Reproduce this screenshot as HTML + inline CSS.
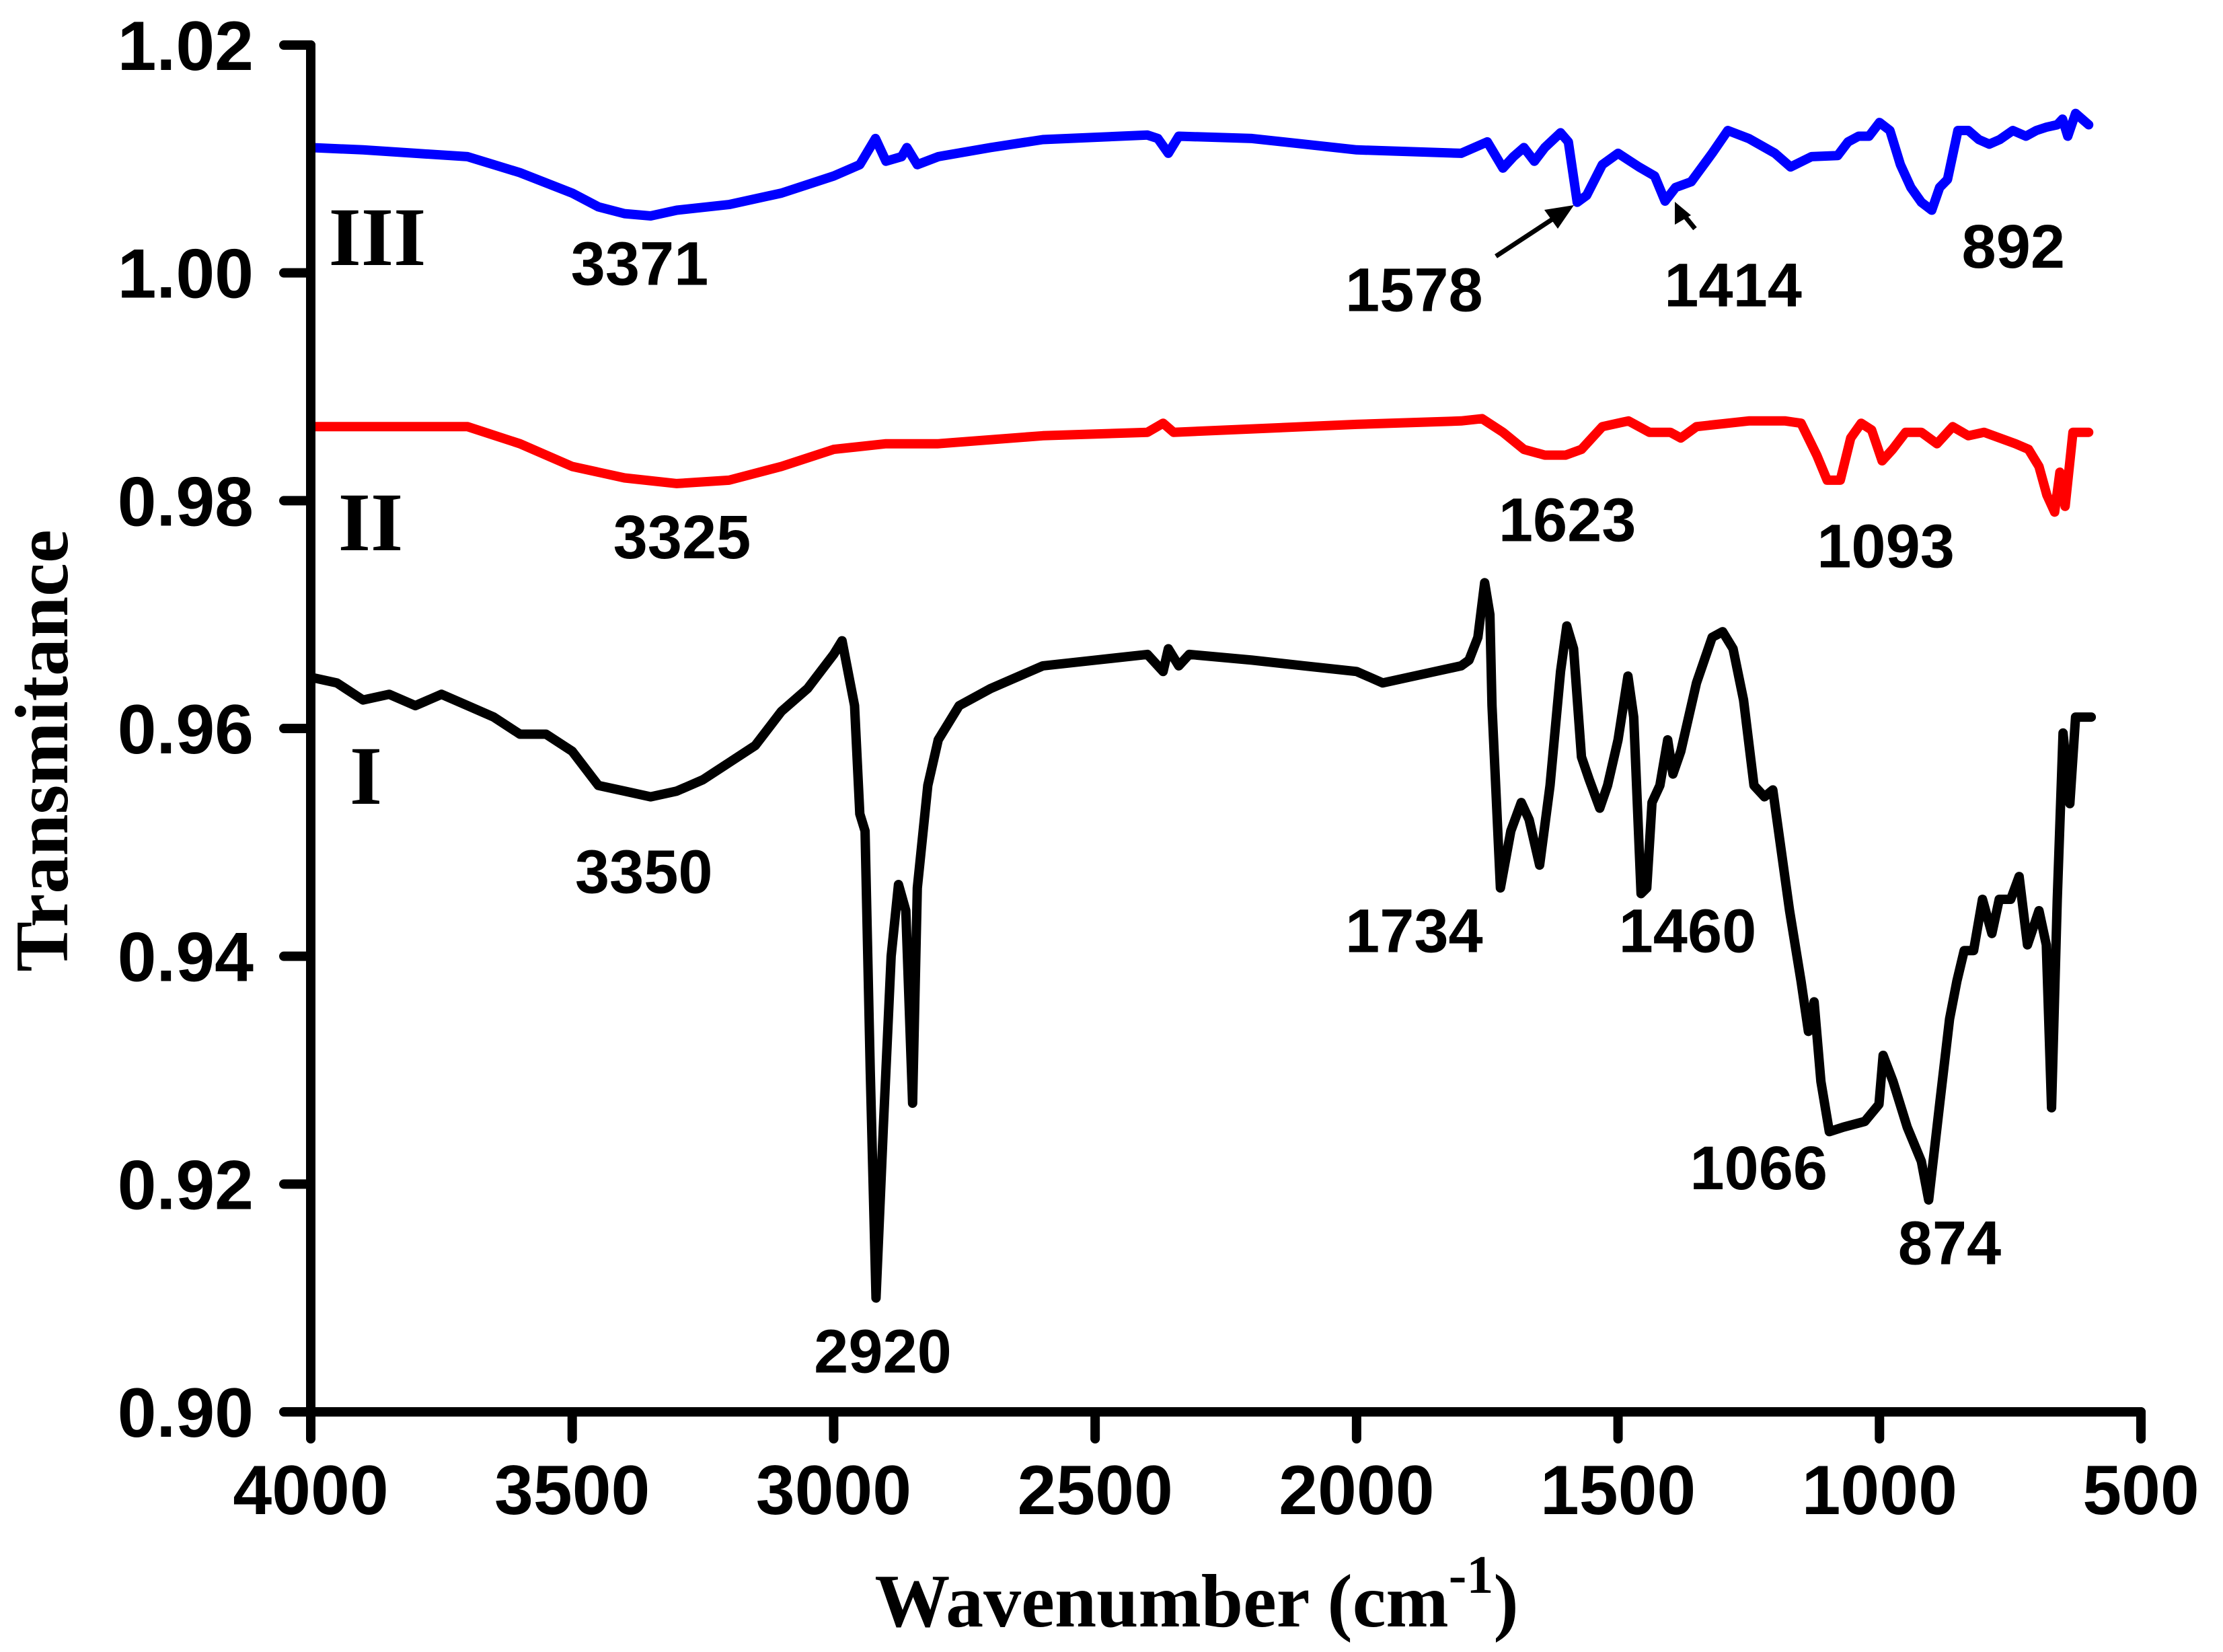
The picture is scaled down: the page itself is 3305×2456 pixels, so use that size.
<!DOCTYPE html>
<html><head><meta charset="utf-8"><style>
html,body{margin:0;padding:0;background:#fff;}
svg{display:block;}
.tk{font-family:"Liberation Sans",Arial,sans-serif;font-weight:bold;font-size:104px;fill:#000;}
.pk{font-family:"Liberation Sans",Arial,sans-serif;font-weight:bold;font-size:92px;fill:#000;}
.rm{font-family:"Liberation Serif",serif;font-weight:bold;font-size:124px;fill:#000;}
.tt{font-family:"Liberation Serif",serif;font-weight:bold;font-size:112px;fill:#000;}
</style></head><body>
<svg id="chart" width="3305" height="2456" viewBox="0 0 3305 2456" xmlns="http://www.w3.org/2000/svg">
<g id="marks"></g>
<g id="axes"></g>
<text class="tt" transform="translate(100,1116) rotate(-90)" text-anchor="middle">Transmitance</text>
<text class="tt" x="1779" y="2418" text-anchor="middle">Wavenumber (cm<tspan font-size="80" dy="-50">-1</tspan><tspan dy="50">)</tspan></text>
<text class="rm" x="561" y="394" text-anchor="middle">III</text>
<text class="rm" x="551" y="818" text-anchor="middle">II</text>
<text class="rm" x="544" y="1195" text-anchor="middle">I</text>
<g stroke="#000" stroke-width="7" fill="#000">
<line x1="2224" y1="381" x2="2320" y2="318"/><polygon points="2340,305 2296,312 2316,340" stroke="none"/></g>
<g stroke="#000" stroke-width="7" fill="#000">
<line x1="2520" y1="340" x2="2502" y2="318"/><polygon points="2490,300 2490,334 2514,320" stroke="none"/></g>
</svg>
<script>
const xTicks=[4000,3500,3000,2500,2000,1500,1000,500];
const yTicks=[0.90,0.92,0.94,0.96,0.98,1.00,1.02];
const wnI=[4000,3950,3900,3850,3800,3750,3700,3650,3600,3550,3500,3450,3400,3350,3300,3250,3200,3150,3100,3050,3000,2984,2960,2950,2940,2930,2919,2905,2890,2876,2862,2849,2840,2820,2800,2760,2700,2650,2600,2500,2400,2370,2360,2340,2320,2200,2100,2000,1950,1900,1800,1785,1768,1755,1745,1741,1725,1705,1685,1670,1650,1630,1610,1598,1585,1570,1555,1535,1520,1500,1481,1470,1456,1445,1435,1420,1405,1395,1380,1350,1320,1300,1280,1260,1240,1220,1204,1172,1150,1136,1125,1112,1096,1069,1028,1001,993,974,947,920,906,885,866,852,838,820,803,785,771,749,733,717,695,681,671,660,649,636,625,595];
const tI=[0.9645,0.964,0.9625,0.963,0.962,0.963,0.962,0.961,0.9595,0.9595,0.958,0.955,0.9545,0.954,0.9545,0.9555,0.957,0.9585,0.9615,0.9635,0.9665,0.9677,0.962,0.9525,0.951,0.93,0.910,0.925,0.94,0.9463,0.944,0.9271,0.946,0.955,0.959,0.962,0.9635,0.9645,0.9655,0.966,0.9665,0.965,0.967,0.9655,0.9665,0.966,0.9655,0.965,0.964,0.9645,0.9655,0.966,0.968,0.9728,0.970,0.962,0.946,0.951,0.9535,0.952,0.948,0.955,0.965,0.969,0.967,0.9575,0.9555,0.953,0.955,0.959,0.9646,0.961,0.9455,0.946,0.9535,0.955,0.959,0.956,0.958,0.964,0.968,0.9685,0.967,0.9625,0.955,0.954,0.9546,0.944,0.9378,0.9334,0.936,0.929,0.9246,0.925,0.9255,0.927,0.9313,0.929,0.925,0.922,0.9186,0.927,0.9345,0.9378,0.9405,0.9405,0.945,0.942,0.945,0.945,0.947,0.941,0.944,0.941,0.9267,0.945,0.9596,0.9534,0.961,0.961];
const wnII=[4000,3800,3700,3600,3500,3400,3300,3200,3100,3000,2900,2800,2600,2400,2370,2350,2000,1800,1760,1720,1680,1640,1600,1570,1530,1480,1440,1400,1380,1350,1250,1180,1150,1120,1100,1075,1055,1035,1015,995,975,950,920,890,860,830,800,770,740,715,695,680,665,655,645,630,600];
const tII=[0.9865,0.9865,0.9865,0.985,0.983,0.982,0.9815,0.9818,0.983,0.9845,0.985,0.985,0.9857,0.986,0.9868,0.986,0.9867,0.987,0.9872,0.986,0.9845,0.984,0.984,0.9845,0.9865,0.987,0.986,0.986,0.9855,0.9865,0.987,0.987,0.9868,0.984,0.9818,0.9818,0.9855,0.9868,0.9862,0.9835,0.9845,0.986,0.986,0.985,0.9865,0.9857,0.986,0.9855,0.985,0.9845,0.983,0.9805,0.979,0.9825,0.9795,0.986,0.986];
const wnIII=[4000,3900,3800,3700,3650,3600,3500,3450,3400,3350,3300,3200,3100,3000,2950,2920,2900,2870,2860,2840,2800,2700,2600,2400,2380,2360,2340,2200,2000,1800,1750,1720,1700,1680,1660,1640,1610,1595,1578,1560,1530,1500,1460,1430,1410,1390,1360,1320,1290,1250,1200,1170,1130,1080,1060,1040,1020,1000,980,960,940,920,900,885,870,850,830,810,790,770,745,720,700,680,660,650,640,625,600];
const tIII=[1.011,1.0108,1.0105,1.0102,1.0095,1.0088,1.007,1.0058,1.0052,1.005,1.0055,1.006,1.007,1.0085,1.0095,1.0118,1.0098,1.0102,1.011,1.0095,1.0102,1.011,1.0117,1.0121,1.0118,1.0105,1.012,1.0118,1.0108,1.0105,1.0115,1.0092,1.0102,1.011,1.0098,1.011,1.0123,1.0115,1.0062,1.0068,1.0095,1.0105,1.0093,1.0085,1.0063,1.0075,1.008,1.0105,1.0125,1.0118,1.0105,1.0093,1.0102,1.0103,1.0115,1.012,1.012,1.0132,1.0125,1.0095,1.0075,1.0062,1.0055,1.0075,1.0082,1.0125,1.0125,1.0117,1.0113,1.0117,1.0125,1.012,1.0125,1.0128,1.013,1.0135,1.012,1.014,1.013];
const peakText=["3371","1578","1414","892","3325","1623","1093","3350","2920","1734","1460","1066","874"];
const labelWn=[3371,1890,1280,744,3290,1597,988,3363,2906,1890,1367,1231,866];
const labelT=[1.0009,0.9986,0.999,1.0024,0.9769,0.9784,0.9761,0.9475,0.9054,0.9423,0.9423,0.9215,0.9149];

const X0=462,X1=3183,Y0=2099,Y1=67;
function sx(w){return X0+(4000-w)*(X1-X0)/3500;}
function sy(t){return Y0-(t-0.90)*(Y0-Y1)/0.12;}
const NS="http://www.w3.org/2000/svg";
const marks=document.getElementById('marks'),axes=document.getElementById('axes'),svg=document.getElementById('chart');
function mk(tag,attrs,parent){const e=document.createElementNS(NS,tag);for(const k in attrs)e.setAttribute(k,attrs[k]);parent.appendChild(e);return e;}
function series(wn,t,color,name){
  let d=wn.map((w,i)=>(i?'L':'M')+sx(w).toFixed(1)+','+sy(t[i]).toFixed(1)).join(' ');
  const p=mk('path',{d:d,fill:'none',stroke:color,'stroke-width':14,'stroke-linejoin':'round','stroke-linecap':'round'},marks);
  
  
}
series(wnI,tI,'#000','series-i');
series(wnII,tII,'#ff0000','series-ii');
series(wnIII,tIII,'#0000ff','series-iii');
const ax=mk('path',{d:`M${X0},${Y1} L${X0},${Y0} L${X1},${Y0}`,fill:'none',stroke:'#000','stroke-width':14,'stroke-linecap':'round'},axes);


xTicks.forEach(v=>{
  const l=mk('line',{x1:sx(v),x2:sx(v),y1:Y0,y2:Y0+40,stroke:'#000','stroke-width':14,'stroke-linecap':'round'},axes);
  
  
  const tx=mk('text',{x:sx(v),y:Y0+152,'text-anchor':'middle',class:'tk'},axes);tx.textContent=v;
  
  
});
yTicks.forEach(v=>{
  const l=mk('line',{x1:X0-40,x2:X0,y1:sy(v),y2:sy(v),stroke:'#000','stroke-width':14,'stroke-linecap':'round'},axes);
  
  
  const tx=mk('text',{x:377,y:sy(v)+37,'text-anchor':'end',class:'tk'},axes);tx.textContent=v.toFixed(2);
  
  
});
peakText.forEach((s,i)=>{
  const tx=mk('text',{x:sx(labelWn[i]),y:sy(labelT[i])+33,'text-anchor':'middle',class:'pk'},svg);tx.textContent=s;
  
  
});
</script>
</body></html>
